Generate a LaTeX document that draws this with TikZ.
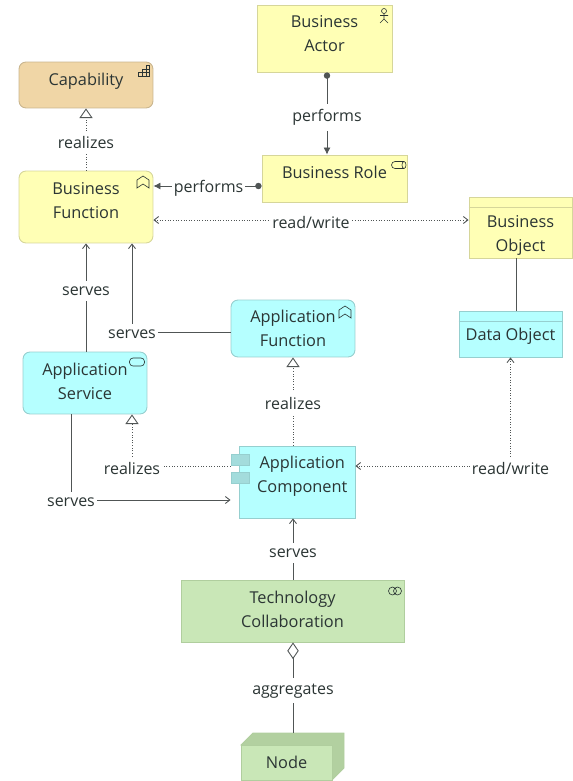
\documentclass[tikz,border=0pt]{standalone}
\usepackage{fontspec}
\setmainfont{Open Sans}
\usetikzlibrary{arrows.meta}
\definecolor{bizfill}{HTML}{FFFFB5}
\definecolor{bizline}{HTML}{D6D69A}
\definecolor{appfill}{HTML}{B5FFFF}
\definecolor{appline}{HTML}{96CFCF}
\definecolor{appdark}{HTML}{A3DCDC}
\definecolor{techfill}{HTML}{C9E7B7}
\definecolor{techline}{HTML}{B0CE9E}
\definecolor{techdark}{HTML}{B2D0A0}
\definecolor{capfill}{HTML}{F0D6A6}
\definecolor{capline}{HTML}{C9B58E}
\definecolor{inkcol}{HTML}{2B3534}
\definecolor{wirecol}{HTML}{505555}
\tikzset{
	elem/.style={draw, line width=.5pt, align=center, inner sep=0pt, text=inkcol,
		font=\fontsize{9.3}{13.6}\selectfont},
	biz/.style={elem, fill=bizfill, draw=bizline},
	app/.style={elem, fill=appfill, draw=appline},
	tech/.style={elem, fill=techfill, draw=techline},
	capel/.style={elem, fill=capfill, draw=capline},
	soft/.style={rounded corners=.14cm},
	tabbox/.style={draw=appline, fill=appdark, line width=.5pt, minimum width=.36cm, minimum height=.22cm, inner sep=0pt},
	word/.style={fill=white, inner xsep=1pt, inner ysep=3pt, yshift=-1.2pt, text=inkcol, font=\fontsize{9.1}{13.6}\selectfont},
	wire/.style={draw=wirecol, line width=.5pt},
	flow/.style={wire, -{Straight Barb[length=2.6pt,width=4pt]}},
	assign/.style={wire, {Circle[length=3.6pt]}-{Latex[length=4pt,width=4pt]}},
	realize/.style={wire, densely dotted, -{Triangle[open,length=5.5pt,width=7.5pt,fill=white]}},
	access/.style={wire, densely dotted, {Straight Barb[length=2.6pt,width=4pt]}-{Straight Barb[length=2.6pt,width=4pt]}},
	aggr/.style={wire, -{Diamond[open,length=9.5pt,width=6.5pt,fill=white]}},
	glyph/.style={draw=inkcol, line width=.35pt},
}
\newcommand{\chevronicon}[1]{
\draw[glyph, shift={(#1)}] (0,-6) -- (6,-2) -- (6,6) -- (0,2) -- (-6,6) -- (-6,-2) -- cycle;
}
\newcommand{\actoricon}[1]{
\draw[glyph, shift={(#1)}] (0,-5) circle (.05cm) (0,-2.5) -- (0,3) (-4,-.5) -- (4,-.5) (-4,7) -- (0,3) -- (4,7);
}
\newcommand{\roleicon}[1]{
\draw[glyph, shift={(#1)}] (5,-3.5) -- (-4,-3.5) arc (90:270:.07cm) -- (5,3.5) (5,0) ellipse (.04cm and .07cm);
}
\newcommand{\serviceicon}[1]{
\draw[glyph, rounded corners=.07cm, shift={(#1)}] (-7.5,-4) rectangle (7.5,4);
}
\newcommand{\collabicon}[1]{
\draw[glyph, shift={(#1)}] (-2.5,0) circle (.08cm) (2.5,0) circle (.08cm);
}
\newcommand{\capabilityicon}[1]{
\draw[glyph, shift={(#1)}] (-5.5,5) -- (5.5,5) -- (5.5,-5.5) -- (2,-5.5) -- (2,-2) -- (-2,-2) -- (-2,1.5) -- (-5.5,1.5) -- cycle
	(2,5) -- (2,-2) (-2,5) -- (-2,-2) (-5.5,1.5) -- (5.5,1.5) (2,-2) -- (5.5,-2);
}
\begin{document}
\begin{tikzpicture}[x=.02cm, y=-.02cm]
	\useasboundingbox (0,0) rectangle (572,781);
	% elements
	\node[capel, soft, minimum width=2.68cm, minimum height=.92cm] (capability) at (86,85) {Capability\\[-6.8pt]};
	\node[biz, soft, minimum width=2.68cm, minimum height=1.44cm] (busfunc) at (86,207) {Business\\Function\\[-5.7pt]};
	\node[biz, minimum width=2.7cm, minimum height=1.34cm] (actor) at (324.5,38.5) {Business\\Actor\\[-7.9pt]};
	\node[biz, minimum width=2.9cm, minimum height=.94cm] (role) at (334.5,178.5) {Business Role\\[-6.2pt]};
	\node[biz, minimum width=2.06cm, minimum height=1.22cm] (busobj) at (520.5,227.5) {\rule{0pt}{16.1pt}Business\\Object};
	\node[app, minimum width=2.06cm, minimum height=.92cm] (dataobj) at (510.5,334) {\rule{0pt}{9.6pt}Data Object};
	\node[app, soft, minimum width=2.48cm, minimum height=1.14cm] (appfunc) at (293,328.5) {Application\\Function};
	\node[app, soft, minimum width=2.48cm, minimum height=1.24cm] (appserv) at (85,383) {Application\\Service\\[-11.3pt]};
	\node[app, minimum width=2.32cm, minimum height=1.44cm] (appcomp) at (297,482) {\hspace*{6pt}Application\\\hspace*{6pt}Component\\[-5.1pt]};
	\node[tech, minimum width=4.46cm, minimum height=1.24cm] (techcol) at (292.5,611) {Technology\\Collaboration\\[-11.9pt]};
	% the 3d node
	\draw[tech, fill=techdark] (241,745) -- (253,733) -- (344,733) -- (344,768) -- (332,780) -- cycle;
	\node[tech, minimum width=1.82cm, minimum height=.7cm] (devnode) at (286.5,762.5) {Node};
	\node[tabbox] (tabA) at (240,459.5) {};
	\node[tabbox] (tabB) at (240,477.5) {};
	% header lines
	\coordinate (objhead) at (0,207);
	\coordinate (datahead) at (0,321);
	\draw[bizline, line width=.5pt] (busobj.west |- objhead) -- (busobj.east |- objhead);
	\draw[appline, line width=.5pt] (dataobj.west |- datahead) -- (dataobj.east |- datahead);
	% icons
	\capabilityicon{144,71}
	\chevronicon{143,182}
	\chevronicon{345,312}
	\actoricon{384,16}
	\roleicon{399,165}
	\serviceicon{137,362}
	\collabicon{395,591}
	% connectors
	\coordinate (actorx) at (327,0);
	\coordinate (rolew) at (0,186);
	\coordinate (rw) at (0,220);
	\coordinate (leftx) at (132,0);
	\coordinate (funcw) at (0,332);
	\coordinate (compr) at (0,466);
	\coordinate (compb) at (0,500);
	\coordinate (servx) at (71,0);
	\coordinate (objx) at (516,0);
	\coordinate (stemx) at (293,0);
	\coordinate (nodetop) at (293,733);
	\draw[assign] (actor.south -| actorx) -- (role.north -| actorx) node[word, pos=.52] (lblperfa) {performs};
	\draw[assign] (role.west |- rolew) -- (busfunc.east |- rolew) node[word, pos=.49] (lblperfb) {performs};
	\draw[realize] (busfunc.north) -- (capability.south) node[word, pos=.49] (lblcap) {realizes};
	\draw[access] (busfunc.east |- rw) -- (busobj.west |- rw) node[word, pos=.5] (lblrwa) {read/write};
	\draw[wire] (busobj.south -| objx) -- (dataobj.north -| objx);
	\draw[flow] (appserv.north -| busfunc) -- (busfunc.south) node[word, pos=.58] (lblserva) {serves};
	\draw[flow] (appfunc.west |- funcw) -| node[word, pos=.5] (lblservb) {serves} (busfunc.south -| leftx);
	\draw[flow] (appserv.south -| servx) |- node[word, pos=.5] (lblservc) {serves} (tabB.west |- compb);
	\draw[realize] (tabA.west |- compr) -| node[word, pos=.5] (lblreala) {realizes} (appserv.south -| leftx);
	\draw[realize] (appcomp.north -| stemx) -- (appfunc.south -| stemx) node[word, pos=.5] (lblrealb) {realizes};
	\draw[access] (dataobj.south) |- node[word, pos=.5] (lblrwb) {read/write} (appcomp.east |- compr);
	\draw[flow] (techcol.north -| stemx) -- (appcomp.south -| stemx) node[word, pos=.47] (lblservd) {serves};
	\draw[aggr] (nodetop) -- (techcol.south -| stemx) node[word, pos=.49] (lblaggr) {aggregates};
\end{tikzpicture}
\end{document}
